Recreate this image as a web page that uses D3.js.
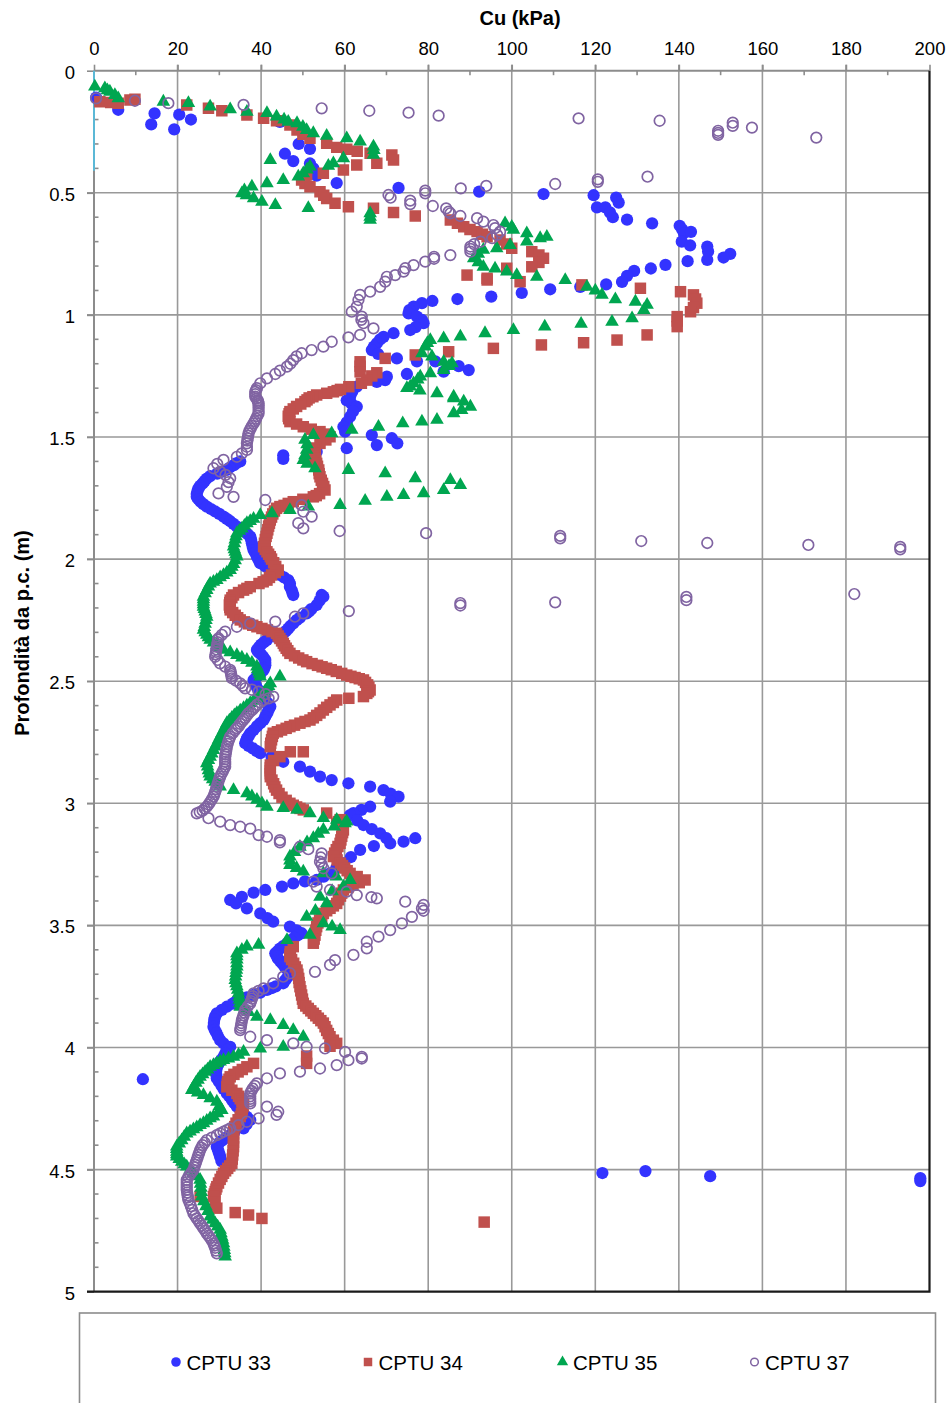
<!DOCTYPE html>
<html>
<head>
<meta charset="utf-8">
<script src="https://cdn.jsdelivr.net/npm/d3@7/dist/d3.min.js"></script>
<style>
  html, body { margin: 0; padding: 0; background: #fff; }
  svg { display: block; font-family: "Liberation Sans", Arial, sans-serif; }
</style>
</head>
<body>
<svg id="chart" width="952" height="1403"></svg>
<script>
// Undrained shear strength Cu (kPa) against depth below ground level (m): [depth, Cu]
const cptu33 = [
  [0.11,0.5],[0.16,5.8],[0.175,14.5],[0.22,13.7],[0.24,19.2],[0.18,20.4],[0.2,23.2],
  [0.21,44.5],[0.30,49],[0.32,51.7],[0.34,45.7],[0.37,47.7],[0.38,51.7],[0.40,52.5],[0.43,53.3],[0.46,58.1],
  [0.48,72.9],[0.495,92.2],[0.505,107.6],[0.51,119.6],[0.52,125],[0.54,125.6],[0.56,120.4],[0.56,122.4],
  [0.58,123.5],[0.6,124.2],[0.61,127.6],[0.625,133.6],[0.635,140.2],[0.65,140.8],[0.665,141.2],[0.66,142.9],
  [0.70,140.7],[0.715,142.7],[0.72,146.8],[0.74,147],[0.775,146.8],[0.75,152.3],[0.765,150.7],[0.78,142.1],
  [0.795,136.8],[0.81,133.3],[0.82,129.3],[0.84,127.6],[0.865,126.4],[0.875,122.6],[0.885,116.4],[0.895,109.2],
  [0.91,102.4],[0.925,95.1],[0.935,87],[0.943,81],[0.952,78.5],[0.966,76.5],[0.98,75.5],[0.994,75.3],
  [1.007,77.3],[1.02,78.5],[1.034,78.9],[1.05,77],[1.062,75.7],[1.075,71.7],[1.09,69.3],[1.10,68.5],
  [1.116,67.7],[1.13,67],[1.144,66.5],[1.16,68],[1.178,72.5],[1.19,77.3],[1.19,81.7],[1.21,87.3],[1.226,89.7],
  [1.232,83.7],[1.242,74.9],[1.253,70.1],[1.267,69.7],[1.274,67.7],[1.294,62.9],[1.315,61.8],[1.335,61.3],
  [1.35,60.5],[1.36,61.5],[1.376,62.9],[1.395,62],[1.417,61.3],[1.44,60.5],[1.458,59.7],[1.478,60.1],
  [1.492,66.5],[1.505,71.3],[1.526,72.6],[1.533,67.7],[1.546,60.5],[1.56,53.3],[1.575,45.3],[1.59,45.3],
  [1.60,35],[1.608,34],[1.615,33.5],[1.625,32.5],[1.635,31.8],[1.643,30.5],[1.65,29.5],[1.66,27.8],[1.67,27],
  [1.68,26.5],[1.69,26],[1.70,25.4],[1.71,25],[1.72,24.8],[1.733,24.6],[1.745,24.6],[1.755,25],[1.765,25.5],
  [1.775,26.2],[1.785,27],[1.795,28],[1.805,29],[1.815,30],[1.826,31],[1.835,31.8],[1.845,32.6],[1.856,33.4],
  [1.867,34.2],[1.878,35.2],[1.888,36],[1.898,36.8],[1.908,37.4],[1.92,37.6],[1.935,37.8],[1.95,38],[1.963,38.2],
  [1.975,38.6],[1.99,39],[2.004,39.4],[2.017,39.8],[2.03,41],[2.045,42.2],[2.055,43.4],[2.065,44.5],[2.075,45.5],
  [2.086,46.5],[2.1,46.9],[2.113,46.9],[2.127,47.3],[2.137,47.5],[2.147,47.7],[2.147,54.5],[2.154,54.9],[2.17,54],
  [2.188,53.3],[2.205,52],[2.214,51.5],[2.222,50.9],[2.24,49.3],[2.25,48.5],[2.263,47.7],[2.274,47],[2.285,46.5],
  [2.295,45.9],[2.304,45.3],[2.31,44.4],[2.318,43.4],[2.331,41.4],[2.34,40.7],[2.35,40],[2.36,39.5],[2.372,39],
  [2.38,39.3],[2.39,40],[2.40,40.5],[2.413,41],[2.424,41],[2.435,41],[2.445,40.8],[2.454,40.6],[2.465,40],
  [2.475,39.5],[2.485,38.8],[2.495,38.2],[2.505,38.4],[2.52,38.8],[2.535,39.3],[2.55,39.8],[2.562,40.4],
  [2.575,41],[2.59,41.6],[2.604,42.2],[2.617,41.8],[2.63,41.5],[2.645,41],[2.659,40.6],[2.672,39.8],[2.685,39],
  [2.7,38.2],[2.713,37.4],[2.725,37],[2.735,36.6],[2.745,36.4],[2.754,36.2],[2.765,37],[2.775,38],[2.785,38.9],
  [2.795,39.8],[2.81,42.5],[2.83,45.3],[2.85,49.3],[2.87,51.7],[2.891,54.1],[2.905,56.9],[2.918,60.9],[2.932,66.1],
  [2.946,69.3],[2.96,71],[2.973,72.9],[2.993,70.9],[3.014,66.1],[3.027,64],[3.04,62.1],[3.048,61.3],[3.07,63],
  [3.089,64.5],[3.106,66.5],[3.123,68.5],[3.143,70],[3.164,70.9],[3.157,74.1],[3.143,76.9],[3.175,67],[3.191,63.7],
  [3.22,61.5],[3.246,59.7],[3.265,58],[3.287,56.5],[3.3,55],[3.314,53.3],[3.32,50.5],[3.328,47.7],[3.341,45],
  [3.355,41],[3.366,38.2],[3.383,35.4],[3.396,32.6],[3.41,34],[3.43,36.6],[3.451,39.8],[3.47,41.5],[3.485,42.9],
  [3.505,46.9],[3.52,48.5],[3.532,49.7],[3.54,48.8],[3.55,48],[3.56,47],[3.573,46.2],[3.585,45.3],[3.595,44.5],
  [3.605,44],[3.614,43.4],[3.625,43.7],[3.635,44],[3.645,44.5],[3.655,45],[3.666,45.5],[3.676,46],[3.686,46.5],
  [3.696,46.9],[3.708,46.5],[3.72,46],[3.728,45.6],[3.737,45.3],[3.75,43.5],[3.757,42.5],[3.764,41.4],[3.775,39.8],
  [3.785,38.2],[3.795,36.6],[3.805,35],[3.812,34],[3.82,33.2],[3.833,31.8],[3.846,30.6],[3.86,29.4],[3.872,29],
  [3.885,28.8],[3.9,28.7],[3.915,28.6],[3.928,28.9],[3.94,29.3],[3.955,29.7],[3.97,30.2],[3.983,31],[3.997,32.6],
  [4.01,31.8],[4.025,31.4],[4.038,31],[4.05,30.5],[4.06,30],[4.07,29.7],[4.079,29.4],[4.09,29.3],[4.1,29.2],
  [4.113,29.3],[4.126,29.4],[4.13,11.7],[4.14,29.9],[4.155,30.5],[4.17,31],[4.188,31.8],[4.2,32.4],[4.215,33],
  [4.228,33.6],[4.242,34.2],[4.255,35],[4.27,35.8],[4.284,36.6],[4.297,37.4],[4.315,36.5],[4.331,35.8],[4.35,33.5],
  [4.36,32.5],[4.37,31.5],[4.38,30.7],[4.39,30],[4.406,29.4],[4.415,29.6],[4.425,29.8],[4.436,30],[4.447,30.2],
  [4.465,30.5],
  [4.514,121.7],[4.506,132],[4.527,147.5],[4.535,197.8],[4.547,197.8]
];

const cptu34 = [
  [0.127,1.4],[0.13,4],[0.133,5.8],[0.12,8.6],[0.117,9.8],[0.14,22.2],[0.154,27.4],[0.164,30.6],[0.181,36.6],
  [0.195,40.6],[0.205,43.7],[0.222,46.9],[0.243,48.6],[0.26,50],[0.277,51.7],[0.297,55.7],[0.314,58.1],[0.322,60.5],
  [0.33,63],[0.338,66.1],[0.345,71.3],[0.366,71.7],[0.379,67.7],[0.386,62.9],[0.407,59.7],[0.42,54.9],[0.427,50.9],
  [0.448,49.7],[0.462,50.5],[0.475,51.7],[0.496,54.1],[0.51,55],[0.523,55.7],[0.543,57.7],[0.557,60.9],[0.563,66.9],
  [0.581,71.7],[0.595,76.9],[0.611,85.3],[0.625,87],[0.639,88.5],[0.65,90],[0.659,91.7],[0.67,93],[0.68,94.1],
  [0.693,97.2],[0.71,98.8],[0.727,100],[0.741,104.8],[0.755,106.5],[0.768,107.6],[0.785,106.5],[0.803,104.8],
  [0.809,98.8],[0.837,89.3],[0.85,94.1],[0.857,94.1],[0.864,102],[0.877,116.8],[0.891,130.8],[0.905,140.4],
  [0.918,143.5],[0.935,144],[0.952,144.3],[0.97,143.5],[0.987,142.8],[1.007,139.6],[1.025,139.6],[1.048,139.6],
  [1.082,132.4],[1.103,125.2],[1.114,117.2],[1.123,107.1],[1.137,95.6],[1.151,84.9],[1.164,76.9],[1.178,69.7],
  [1.192,63.7],[1.21,63.7],[1.233,63.7],[1.237,67.7],[1.25,66.5],[1.267,65.3],[1.28,64],[1.294,61],[1.305,59],
  [1.31,58.2],[1.315,57.3],[1.321,55.7],[1.328,53.3],[1.335,52.4],[1.34,51.5],[1.348,51],[1.355,50.5],[1.365,49.5],
  [1.375,48.5],[1.385,47.7],[1.396,46.9],[1.405,46.7],[1.415,46.5],[1.425,46.6],[1.437,46.9],[1.447,48.5],
  [1.458,50.1],[1.468,52],[1.478,54.1],[1.488,55.3],[1.499,56.5],[1.512,55.5],[1.526,54.1],[1.545,53],[1.555,52.7],
  [1.567,52.5],[1.578,52.7],[1.588,53],[1.598,53.1],[1.608,53.3],[1.62,53.5],[1.635,53.8],[1.65,53.9],[1.663,54.1],
  [1.677,54.4],[1.69,54.7],[1.703,55],[1.717,55.3],[1.732,54],[1.74,53.2],[1.745,52.5],[1.755,50],[1.765,47.7],
  [1.772,46.5],[1.78,45.5],[1.785,44.5],[1.792,43.7],[1.803,43.2],[1.815,42.8],[1.828,42.5],[1.84,42.2],
  [1.853,42],[1.865,41.8],[1.88,41.6],[1.894,41.4],[1.907,41.2],[1.92,41],[1.935,40.8],[1.949,40.6],[1.96,41],
  [1.97,41.4],[1.98,41.8],[1.99,42.2],[2.0,42.5],[2.015,43],[2.03,43.5],[2.045,44.1],[2.055,43.4],[2.065,42.5],
  [2.075,42],[2.086,41.4],[2.093,40.5],[2.1,39.5],[2.113,37.4],[2.12,36.6],[2.127,35.8],[2.137,34.6],[2.147,33.4],
  [2.158,33],[2.168,32.6],[2.178,32.5],[2.188,32.4],[2.198,32.5],[2.208,32.6],[2.219,33.2],[2.23,33.8],[2.24,34.4],
  [2.249,35],[2.257,36],[2.265,37],[2.271,38],[2.277,39],[2.284,40.2],[2.29,41.5],[2.297,42.6],[2.304,43.7],
  [2.315,44.1],[2.325,44.5],[2.335,44.9],[2.345,45.3],[2.355,45.6],[2.365,46],[2.375,46.4],[2.386,46.9],[2.396,48],
  [2.405,49],[2.413,50],[2.42,50.9],[2.428,52.2],[2.435,53.5],[2.441,54.6],[2.447,55.7],[2.453,56.8],[2.46,58],
  [2.468,59.3],[2.475,60.5],[2.48,61.5],[2.485,62.5],[2.49,63.5],[2.495,64.5],[2.505,65],[2.515,65.5],[2.525,65.8],
  [2.536,66.1],[2.543,65.7],[2.55,65.3],[2.563,64.5],[2.57,61],[2.577,58.1],[2.587,57.3],[2.597,56.5],[2.607,55.7],
  [2.618,54.9],[2.63,54.1],[2.64,53.3],[2.65,52.5],[2.659,51.7],[2.665,50.5],[2.672,49.3],[2.68,48],[2.686,46.9],
  [2.693,46],[2.7,44.9],[2.707,43.9],[2.713,42.9],[2.726,42.7],[2.74,42.5],[2.754,42.3],[2.768,42.2],[2.789,50.1],
  [2.789,47],[2.809,44.5],[2.825,43],[2.843,42.2],[2.855,42.2],[2.867,42.2],[2.879,42.2],[2.891,42.2],[2.905,42.6],
  [2.92,43],[2.933,43.3],[2.946,43.7],[2.96,44.3],[2.975,45],[2.988,46],[3.0,46.9],[3.008,47.7],[3.015,48.5],
  [3.021,49.3],[3.027,50.1],[3.04,55.7],[3.067,58.9],[3.075,58.5],[3.082,58.1],[3.095,59.5],[3.109,59.7],[3.12,59.5],
  [3.135,59.3],[3.15,59.1],[3.164,58.9],[3.177,58.4],[3.19,58],[3.204,57.6],[3.218,57.3],[3.232,58.2],[3.245,59],
  [3.255,59.5],[3.265,60],[3.276,60.6],[3.287,61.3],[3.3,63],[3.314,64.9],[3.325,63.5],[3.335,62],[3.345,60.8],
  [3.355,59.7],[3.368,59.3],[3.38,59],[3.395,58.5],[3.41,58.1],[3.42,57.3],[3.43,56.5],[3.44,55.7],[3.451,54.9],
  [3.465,54.5],[3.478,54],[3.49,53.6],[3.505,53.3],[3.52,53.1],[3.54,52.9],[3.556,52.7],[3.573,52.5],[3.587,47.7],
  [3.608,47],[3.618,46.9],[3.628,46.9],[3.64,47.3],[3.655,47.8],[3.67,48.2],[3.683,48.6],[3.7,48.8],[3.717,49],
  [3.734,49.1],[3.751,49.3],[3.768,49.5],[3.785,49.7],[3.802,49.9],[3.819,50.1],[3.83,50.7],[3.84,51.3],[3.85,51.9],
  [3.86,52.5],[3.87,53.1],[3.88,53.7],[3.89,54.3],[3.9,54.9],[3.915,55.3],[3.93,55.7],[3.943,56.1],[3.956,56.5],
  [3.97,57.3],[3.983,58.1],[3.995,56.5],[4.035,50.9],[4.065,50.9],[4.065,38.2],[4.079,36.6],[4.09,35.5],[4.1,34.5],
  [4.11,33.5],[4.12,32.6],[4.13,32.3],[4.14,32],[4.15,31.9],[4.161,31.8],[4.175,33],[4.188,34.2],[4.2,34.6],
  [4.21,35],[4.22,35.4],[4.229,35.8],[4.242,35.7],[4.255,35.5],[4.27,35.3],[4.283,35],[4.296,34.5],[4.31,34],
  [4.324,33.7],[4.338,33.4],[4.354,33.4],[4.37,33.4],[4.388,33.4],[4.406,33.4],[4.423,33.3],[4.44,33.2],
  [4.457,33.1],[4.474,33],[4.485,32.5],[4.495,32],[4.505,31.5],[4.515,31],[4.528,30.6],[4.54,30.2],[4.555,29.8],
  [4.57,29.4],[4.58,29.2],[4.59,29],[4.6,28.8],[4.61,28.6],[4.61,25.4],[4.635,29],[4.658,29.4],[4.676,33.8],
  [4.686,37],[4.7,40.2],[4.715,93.4]
];

const cptu35 = [
  [0.065,0.2],[0.072,2.6],[0.08,3.2],[0.086,3.8],[0.1,5],[0.113,5.8],[0.127,16.6],[0.133,22.6],[0.147,27.8],
  [0.158,32.6],[0.168,36.6],[0.174,41.4],[0.188,43.7],[0.2,45.5],[0.209,46.5],[0.215,48.6],[0.23,50],[0.243,50.9],
  [0.256,52.5],[0.267,55.7],[0.277,60.5],[0.29,63.7],[0.311,66.9],[0.325,67],[0.345,66.9],[0.359,59.7],[0.366,42.2],
  [0.379,57.3],[0.39,56.1],[0.393,51.7],[0.405,51],[0.42,50.1],[0.434,48.9],[0.448,45.3],[0.461,41.4],[0.475,37.8],
  [0.49,36],[0.502,35.4],[0.51,36.5],[0.523,38.2],[0.537,40.2],[0.55,43.4],[0.563,51.3],[0.584,66.1],[0.598,66.1],
  [0.611,66.1],[0.625,98.4],[0.639,100],[0.652,100.4],[0.666,103.6],[0.68,108.4],[0.686,106.8],[0.7,103.6],
  [0.714,99.6],[0.727,96.4],[0.734,93.2],[0.75,92],[0.768,90.9],[0.785,92],[0.803,93.2],[0.81,96],[0.823,98.8],
  [0.837,101.2],[0.844,106],[0.857,112.8],[0.885,118],[0.9,120],[0.918,121.6],[0.936,124.8],[0.946,129.6],
  [0.959,132.4],[0.98,131.6],[1.014,128.8],[1.028,124],[1.037,116.6],[1.048,107.9],[1.062,100.4],[1.075,93.6],
  [1.089,87.7],[1.096,83.7],[1.103,80.5],[1.115,79.8],[1.13,79.3],[1.157,78.5],[1.171,80.9],[1.192,83.7],
  [1.198,85.7],[1.21,85],[1.226,83.7],[1.239,80.5],[1.253,78.1],[1.265,77.5],[1.28,76.5],[1.294,75.7],[1.3,74.9],
  [1.31,78],[1.321,82.1],[1.335,86.1],[1.342,86.1],[1.355,88.5],[1.376,90.1],[1.39,88],[1.403,86.1],[1.43,82.1],
  [1.437,78.5],[1.444,73.9],[1.458,68.1],[1.471,61.7],[1.485,56.9],[1.492,52.5],[1.512,50.5],[1.53,51],[1.553,50.9],
  [1.575,50.5],[1.594,50.1],[1.61,51],[1.628,52.9],[1.635,60.9],[1.649,69.7],[1.669,76.9],[1.676,85.3],[1.697,87.7],
  [1.717,83.7],[1.731,78.9],[1.738,74.1],[1.745,70.1],[1.761,64.9],[1.779,58.9],[1.785,51.3],[1.799,46.9],
  [1.813,42.6],[1.82,39.8],[1.835,38.2],[1.844,37.4],[1.853,36.6],[1.864,36],[1.875,35.4],[1.884,34.8],[1.894,34.2],
  [1.907,34],[1.92,33.8],[1.935,33.6],[1.949,33.4],[1.96,33.6],[1.97,33.8],[1.98,34],[1.99,34.2],[2.005,33.8],
  [2.02,33.4],[2.032,33],[2.045,32.6],[2.055,31.8],[2.065,31],[2.075,30.2],[2.086,29.4],[2.093,28.6],[2.1,27.8],
  [2.113,27.4],[2.127,27],[2.14,26.6],[2.154,26.2],[2.165,26.2],[2.175,26.2],[2.185,26.2],[2.195,26.2],[2.205,26.4],
  [2.215,26.6],[2.225,26.8],[2.236,27],[2.25,26.8],[2.265,26.6],[2.278,26.4],[2.29,26.2],[2.3,26.6],[2.31,27],
  [2.32,27.4],[2.331,27.8],[2.342,28.6],[2.352,29.4],[2.362,30.2],[2.372,31],[2.382,32.6],[2.393,34.2],[2.403,35.4],
  [2.413,36.6],[2.425,37.8],[2.44,39],[2.45,39.2],[2.46,39.4],[2.47,39.6],[2.481,39.8],[2.481,44.5],[2.509,42.2],
  [2.52,41.8],[2.53,41.5],[2.54,41],[2.55,40.6],[2.56,39.8],[2.57,39],[2.58,38.2],[2.59,37.4],[2.6,36.6],[2.61,35.8],
  [2.62,35],[2.631,34.2],[2.64,33.6],[2.65,33],[2.661,32.4],[2.672,31.8],[2.686,31.4],[2.7,31],[2.713,30.6],
  [2.727,30.2],[2.74,29.8],[2.755,29.4],[2.768,29],[2.782,28.6],[2.796,28.2],[2.81,27.8],[2.823,27.4],[2.836,27],
  [2.85,27.2],[2.865,27.4],[2.878,27.6],[2.891,27.8],[2.902,28.4],[2.912,29],[2.922,29.6],[2.932,30.2],[2.946,33.4],
  [2.959,36.6],[2.972,37.8],[2.986,39],[3.0,40.2],[3.014,41.4],[3.02,45.3],[3.027,48.6],[3.041,51.7],[3.061,54.9],
  [3.068,58.1],[3.075,60.5],[3.082,60.1],[3.095,57.5],[3.109,54.9],[3.125,53.7],[3.143,52.5],[3.16,51],[3.178,49.3],
  [3.2,48],[3.218,46.9],[3.235,46.9],[3.253,46.9],[3.265,48.5],[3.28,50.1],[3.287,54.9],[3.3,58],[3.314,61.3],
  [3.341,59.7],[3.36,57],[3.383,54.1],[3.41,55.7],[3.44,53],[3.465,50.9],[3.492,54.9],[3.505,57],[3.519,58.9],
  [3.539,51.7],[3.56,46.2],[3.58,39.4],[3.587,36.6],[3.6,35.4],[3.614,34.2],[3.627,34.2],[3.64,34.2],[3.655,34.2],
  [3.669,34.2],[3.682,34.1],[3.695,34],[3.71,33.9],[3.724,33.8],[3.737,34],[3.75,34.2],[3.764,34.4],[3.778,34.6],
  [3.792,34.7],[3.805,34.8],[3.819,34.9],[3.833,35],[3.845,36],[3.855,37],[3.874,39],[3.888,42.2],[3.908,45.3],
  [3.929,47.7],[3.956,50.1],[3.997,45.3],[4.004,39.8],[4.018,35.8],[4.03,34.6],[4.038,33.4],[4.045,32.2],[4.052,31],
  [4.058,30.2],[4.065,29.4],[4.072,28.6],[4.079,27.8],[4.09,27.2],[4.1,26.6],[4.11,26],[4.12,25.4],[4.132,24.9],
  [4.145,24.4],[4.16,23.9],[4.174,23.4],[4.185,24.8],[4.195,26.2],[4.208,27.8],[4.222,29.4],[4.24,30],[4.256,30.6],
  [4.27,29.6],[4.283,28.6],[4.29,27.8],[4.3,27],[4.31,26.2],[4.318,25.4],[4.327,24.6],[4.335,23.8],[4.344,23],
  [4.352,22.2],[4.366,21.6],[4.38,21],[4.393,20.4],[4.406,19.8],[4.416,19.8],[4.427,19.8],[4.437,19.8],[4.447,19.8],
  [4.457,20.4],[4.468,21],[4.478,21.6],[4.488,22.2],[4.5,23],[4.515,23.8],[4.528,24.6],[4.542,25.4],[4.558,25.5],
  [4.575,25.6],[4.592,25.7],[4.61,25.8],[4.63,26.3],[4.65,26.8],[4.67,27.3],[4.692,27.8],[4.706,28.4],[4.72,29],
  [4.733,29.6],[4.747,30.2],[4.761,30.4],[4.775,30.6],[4.788,30.8],[4.802,31],[4.816,31.1],[4.83,31.2],[4.843,31.3],
  [4.856,31.4]
];

const cptu37 = [
  [0.113,0.5],[0.123,9.8],[0.133,17.8],[0.14,35.8],[0.154,54.5],[0.164,65.9],[0.172,75.3],[0.184,82.5],[0.195,116],
  [0.205,135.4],[0.213,152.9],[0.226,152.9],[0.233,157.5],[0.246,149.4],[0.255,149.4],[0.263,149.4],[0.274,172.9],
  [0.434,132.5],[0.445,120.6],[0.455,120.6],[0.464,110.4],[0.472,93.9],[0.482,87.8],[0.491,79.3],[0.502,79.3],
  [0.509,70.5],[0.52,71],[0.532,75.7],[0.546,75.7],[0.554,81.1],[0.564,84.3],[0.577,84.9],[0.584,85.3],[0.595,87.7],
  [0.604,91.7],[0.618,93.2],[0.632,95.6],[0.645,96],[0.659,97.2],[0.672,96.5],[0.686,95.3],[0.7,92.5],[0.71,91],
  [0.72,90.1],[0.73,90.1],[0.741,90.1],[0.755,85.3],[0.762,81.4],[0.77,81.4],[0.782,79.3],[0.796,76.5],[0.809,74.5],
  [0.823,74.1],[0.837,72.1],[0.844,70.1],[0.864,69.7],[0.885,68.5],[0.905,66.1],[0.918,63.7],[0.939,63.3],
  [0.966,62.9],[0.987,61.7],[1.007,64.1],[1.02,64],[1.034,64.5],[1.055,66.9],[1.082,63.7],[1.092,60.9],[1.11,56.9],
  [1.13,54.9],[1.144,52.1],[1.157,49.7],[1.17,48.5],[1.185,47.7],[1.2,47],[1.212,46.2],[1.228,44.5],[1.242,43.4],
  [1.26,41.4],[1.28,39.8],[1.3,39],[1.308,38.8],[1.315,38.6],[1.325,38.6],[1.335,38.6],[1.343,38.9],[1.35,39.2],
  [1.356,39.3],[1.362,39.4],[1.37,39.4],[1.38,39.4],[1.392,39.4],[1.403,39.4],[1.414,39.1],[1.425,38.8],
  [1.435,38.5],[1.444,38.2],[1.455,37.8],[1.465,37.5],[1.475,37.2],[1.485,37],[1.495,36.9],[1.505,36.8],
  [1.515,36.7],[1.526,36.6],[1.54,36.6],[1.553,36.6],[1.567,35.4],[1.581,34.2],[1.594,31],
  [1.61,29.5],[1.628,28.6],[1.642,30.2],[1.655,31.5],[1.669,32.6],[1.685,32.2],[1.704,31.8],[1.731,29.8],
  [1.745,33.4],[1.758,41],[1.779,49.7],[1.806,50.1],[1.826,52.1],[1.853,48.9],[1.874,50.1],[1.885,58.8],[1.894,79.5],
  [1.905,111.6],[1.915,111.6],[1.926,131],[1.934,146.8],[1.942,171],[1.95,193],[1.96,193],
  [2.143,182],[2.155,141.8],[2.168,141.8],[2.177,110.4],[2.18,87.7],[2.19,87.7],[2.213,61],[2.222,50.1],
  [2.236,48.1],[2.256,43.4],[2.263,37.4],[2.277,34.2],[2.297,31.4],[2.31,30.6],[2.324,29.8],[2.33,29.7],[2.34,29.6],
  [2.35,29.5],[2.359,29.4],[2.37,29.3],[2.38,29.2],[2.39,29.1],[2.4,29],[2.413,29.6],[2.427,30.2],[2.44,31.4],
  [2.454,32.6],[2.462,32.7],[2.47,32.8],[2.479,32.9],[2.488,33],[2.498,34],[2.509,35],[2.519,35.6],[2.529,36.2],
  [2.535,37.8],[2.543,39.4],[2.553,41.1],[2.563,42.9],[2.57,41.8],[2.577,40.6],[2.587,39.8],[2.597,39],[2.606,38.5],
  [2.615,38],[2.623,37.5],[2.631,37],[2.64,36.6],[2.65,36.2],[2.658,35.8],[2.666,35.4],[2.675,35],[2.685,34.6],
  [2.692,34.2],[2.7,33.8],[2.713,33.2],[2.727,32.6],[2.736,32.4],[2.745,32.2],[2.757,32],[2.768,31.8],[2.78,31.7],
  [2.79,31.6],[2.8,31.5],[2.809,31.4],[2.82,31.4],[2.83,31.4],[2.84,31.4],[2.85,31.4],[2.86,31.1],[2.87,30.8],
  [2.88,30.5],[2.891,30.2],[2.9,30],[2.91,29.8],[2.92,29.6],[2.932,29.4],[2.942,29.2],[2.953,29],[2.963,28.8],
  [2.973,28.6],[2.984,28.2],[2.995,27.8],[3.005,27.4],[3.014,27],[3.022,26.5],[3.03,26],[3.036,25.3],[3.041,24.6],
  [3.061,27.4],[3.075,30.2],[3.089,32.6],[3.096,35],[3.104,37.4],[3.13,39.4],[3.137,41.4],[3.151,44.5],[3.16,44.5],
  [3.178,49.3],[3.188,51.3],[3.205,54.5],[3.222,54.3],[3.239,54.1],[3.25,54.5],[3.266,54.9],[3.287,56.9],
  [3.321,52.5],[3.341,53.3],[3.355,56.5],[3.362,60.5],[3.376,62.9],[3.384,66.4],[3.389,67.7],[3.403,74.5],
  [3.416,78.9],[3.43,78.5],[3.44,78.9],[3.465,76.1],[3.492,73.7],[3.519,70.9],[3.546,68.1],[3.567,65.3],
  [3.594,65.3],[3.621,62.1],[3.642,57.7],[3.662,56.5],[3.69,52.9],[3.696,46.9],[3.71,45.3],[3.737,42.9],
  [3.758,40.6],[3.768,39.4],[3.778,38.2],[3.79,38],[3.8,37.8],[3.81,37.6],[3.819,37.4],[3.832,36.8],[3.846,36.2],
  [3.857,36],[3.868,35.8],[3.878,35.6],[3.888,35.4],[3.9,35.3],[3.91,35.2],[3.92,35.1],[3.929,35],[3.956,37.4],
  [3.97,41.4],[3.983,47.7],[3.997,50.9],[4.004,55.3],[4.018,60.1],[4.038,64.1],[4.045,64.1],[4.052,60.9],
  [4.072,58.1],[4.086,54.1],[4.099,49.3],[4.106,44.5],[4.126,41.4],[4.147,39],[4.157,38.5],[4.168,38],[4.178,37.7],
  [4.188,37.4],[4.2,37.4],[4.21,37.4],[4.22,37.4],[4.229,37.4],[4.242,41.4],[4.263,44.1],[4.276,43.7],[4.29,39.4],
  [4.304,36.6],[4.318,34.6],[4.331,32.6],[4.338,31.8],[4.345,31],[4.352,30.2],[4.359,29.4],[4.369,28.2],[4.379,27],
  [4.39,26.5],[4.4,26],[4.41,25.7],[4.42,25.4],[4.43,25.2],[4.44,25],[4.45,24.8],[4.461,24.6],[4.47,24.4],
  [4.48,24.2],[4.49,24],[4.502,23.8],[4.51,23.4],[4.52,23],[4.53,22.6],[4.542,22.2],[4.552,22.2],[4.562,22.2],
  [4.572,22.2],[4.583,22.2],[4.594,22.3],[4.605,22.4],[4.614,22.5],[4.624,22.6],[4.637,22.9],[4.65,23.2],
  [4.665,23.5],[4.679,23.8],[4.69,24.2],[4.7,24.6],[4.71,25],[4.72,25.4],[4.73,25.8],[4.74,26.2],[4.75,26.6],
  [4.761,27],[4.77,27.4],[4.78,27.8],[4.79,28.2],[4.802,28.6],[4.811,28.8],[4.82,29],[4.832,29.2],[4.843,29.4]
];

// Short trace drawn along Cu = 0 near the surface: [depth, Cu]
const surfaceTrace = [[0.0,0],[0.41,0]];

const seriesNames = ["CPTU 33", "CPTU 34", "CPTU 35", "CPTU 37"];
const xTicks = [0, 20, 40, 60, 80, 100, 120, 140, 160, 180, 200];
const yTicks = [0, 0.5, 1, 1.5, 2, 2.5, 3, 3.5, 4, 4.5, 5];
const xTitle = "Cu (kPa)";
const yTitle = "Profondità da p.c. (m)";

const svg = d3.select("#chart");
const plot = { left: 94, right: 929.5, top: 70.7, bottom: 1291.7 };

const x = d3.scaleLinear().domain([0, 200]).range([plot.left, plot.right]);
const y = d3.scaleLinear().domain([0, 5]).range([plot.top, plot.bottom]);

const gridColor = "#999999";
const axisColor = "#8c8c8c";

// gridlines
const grid = svg.append("g");
grid.selectAll("line.vx").data(xTicks.filter(v => v > 0 && v < 200)).join("line")
  .attr("x1", d => x(d)).attr("x2", d => x(d))
  .attr("y1", plot.top - 6).attr("y2", plot.bottom)
  .attr("stroke", gridColor).attr("stroke-width", 1.6);
grid.selectAll("line.hy").data(yTicks.filter(v => v > 0 && v < 5)).join("line")
  .attr("x1", plot.left - 7).attr("x2", plot.right)
  .attr("y1", d => y(d)).attr("y2", d => y(d))
  .attr("stroke", gridColor).attr("stroke-width", 1.6);

// top axis (Cu)
const xAxis = d3.axisTop(x).tickValues(xTicks).tickSize(6).tickPadding(10).tickFormat(d3.format("d"));
const gx = svg.append("g").attr("transform", `translate(0,${plot.top})`).call(xAxis);
gx.select(".domain").attr("stroke", axisColor).attr("stroke-width", 2).attr("d", `M${plot.left},0H${plot.right}`);
gx.selectAll(".tick line").attr("stroke", axisColor).attr("stroke-width", 1.6);
gx.selectAll(".tick text").attr("font-size", 18.5).attr("fill", "#000")
  .attr("font-family", "Liberation Sans, Arial, sans-serif");
const xMinor = d3.range(10, 200, 20);
svg.append("g").selectAll("line").data(xMinor).join("line")
  .attr("x1", d => x(d)).attr("x2", d => x(d))
  .attr("y1", plot.top).attr("y2", plot.top + 4.5)
  .attr("stroke", axisColor).attr("stroke-width", 1.6);

// left axis (depth)
const yAxis = d3.axisLeft(y).tickValues(yTicks).tickSize(7).tickPadding(12)
  .tickFormat(d => String(d));
const gy = svg.append("g").attr("transform", `translate(${plot.left},0)`).call(yAxis);
gy.select(".domain").attr("stroke", axisColor).attr("stroke-width", 2).attr("d", `M0,${plot.top}V${plot.bottom}`);
gy.selectAll(".tick line").attr("stroke", axisColor).attr("stroke-width", 1.6);
gy.selectAll(".tick text").attr("font-size", 18.5).attr("fill", "#000").attr("dy", "0.4em")
  .attr("font-family", "Liberation Sans, Arial, sans-serif");
const yMinor = d3.range(1, 50).map(i => i / 10).filter(v => Math.abs(v * 2 - Math.round(v * 2)) > 1e-6);
svg.append("g").selectAll("line").data(yMinor).join("line")
  .attr("x1", plot.left).attr("x2", plot.left + 4.5)
  .attr("y1", d => y(d)).attr("y2", d => y(d))
  .attr("stroke", axisColor).attr("stroke-width", 1.6);

// plot frame: right and bottom edges
svg.append("path")
  .attr("d", `M${plot.left - 7},${plot.bottom}H${plot.right}V${plot.top}`)
  .attr("fill", "none").attr("stroke", "#1a1a1a").attr("stroke-width", 2.2);

// axis titles
svg.append("text").attr("x", 520).attr("y", 25).attr("text-anchor", "middle")
  .attr("font-size", 20).attr("font-weight", "bold").text(xTitle);
svg.append("text").attr("transform", "translate(28.5,633) rotate(-90)")
  .attr("text-anchor", "middle").attr("font-size", 20).attr("font-weight", "bold").text(yTitle);

// surface trace
svg.append("path")
  .datum(surfaceTrace)
  .attr("d", d3.line().x(d => x(d[1])).y(d => y(d[0])))
  .attr("fill", "none").attr("stroke", "#5bb8d6").attr("stroke-width", 2);

// series styling
const styles = [
  { data: cptu33, type: d3.symbolCircle, size: 118, fill: "#3333ff", stroke: "none" },
  { data: cptu34, type: d3.symbolSquare, size: 132, fill: "#c0504d", stroke: "none" },
  { data: cptu35, type: d3.symbolTriangle, size: 80, fill: "#00a650", stroke: "none" },
  { data: cptu37, type: d3.symbolCircle, size: 88, fill: "none", stroke: "#8064a2" }
];

svg.append("clipPath").attr("id", "plotclip").append("rect")
  .attr("x", plot.left - 8).attr("y", plot.top - 8)
  .attr("width", plot.right - plot.left + 16).attr("height", plot.bottom - plot.top + 8);

const marks = svg.append("g").attr("clip-path", "url(#plotclip)");
styles.forEach(s => {
  marks.append("g").selectAll("path").data(s.data).join("path")
    .attr("transform", d => `translate(${x(d[1])},${y(d[0])})`)
    .attr("d", d3.symbol().type(s.type).size(s.size))
    .attr("fill", s.fill)
    .attr("stroke", s.stroke)
    .attr("stroke-width", s.stroke === "none" ? 0 : 1.7);
});

// legend
svg.append("rect").attr("x", 79.5).attr("y", 1313).attr("width", 856).attr("height", 120)
  .attr("fill", "#fff").attr("stroke", axisColor).attr("stroke-width", 1.6);
const legendX = [176, 368, 562.5, 754.5];
const legendSizes = [72, 72, 56, 46];
seriesNames.forEach((name, i) => {
  const s = styles[i];
  svg.append("path")
    .attr("transform", `translate(${legendX[i]},${1362})`)
    .attr("d", d3.symbol().type(s.type).size(legendSizes[i]))
    .attr("fill", s.fill).attr("stroke", s.stroke)
    .attr("stroke-width", s.stroke === "none" ? 0 : 1.5);
  svg.append("text").attr("x", legendX[i] + 10.5).attr("y", 1369.5)
    .attr("font-size", 20.5).attr("fill", "#000").text(name);
});
</script>
</body>
</html>
